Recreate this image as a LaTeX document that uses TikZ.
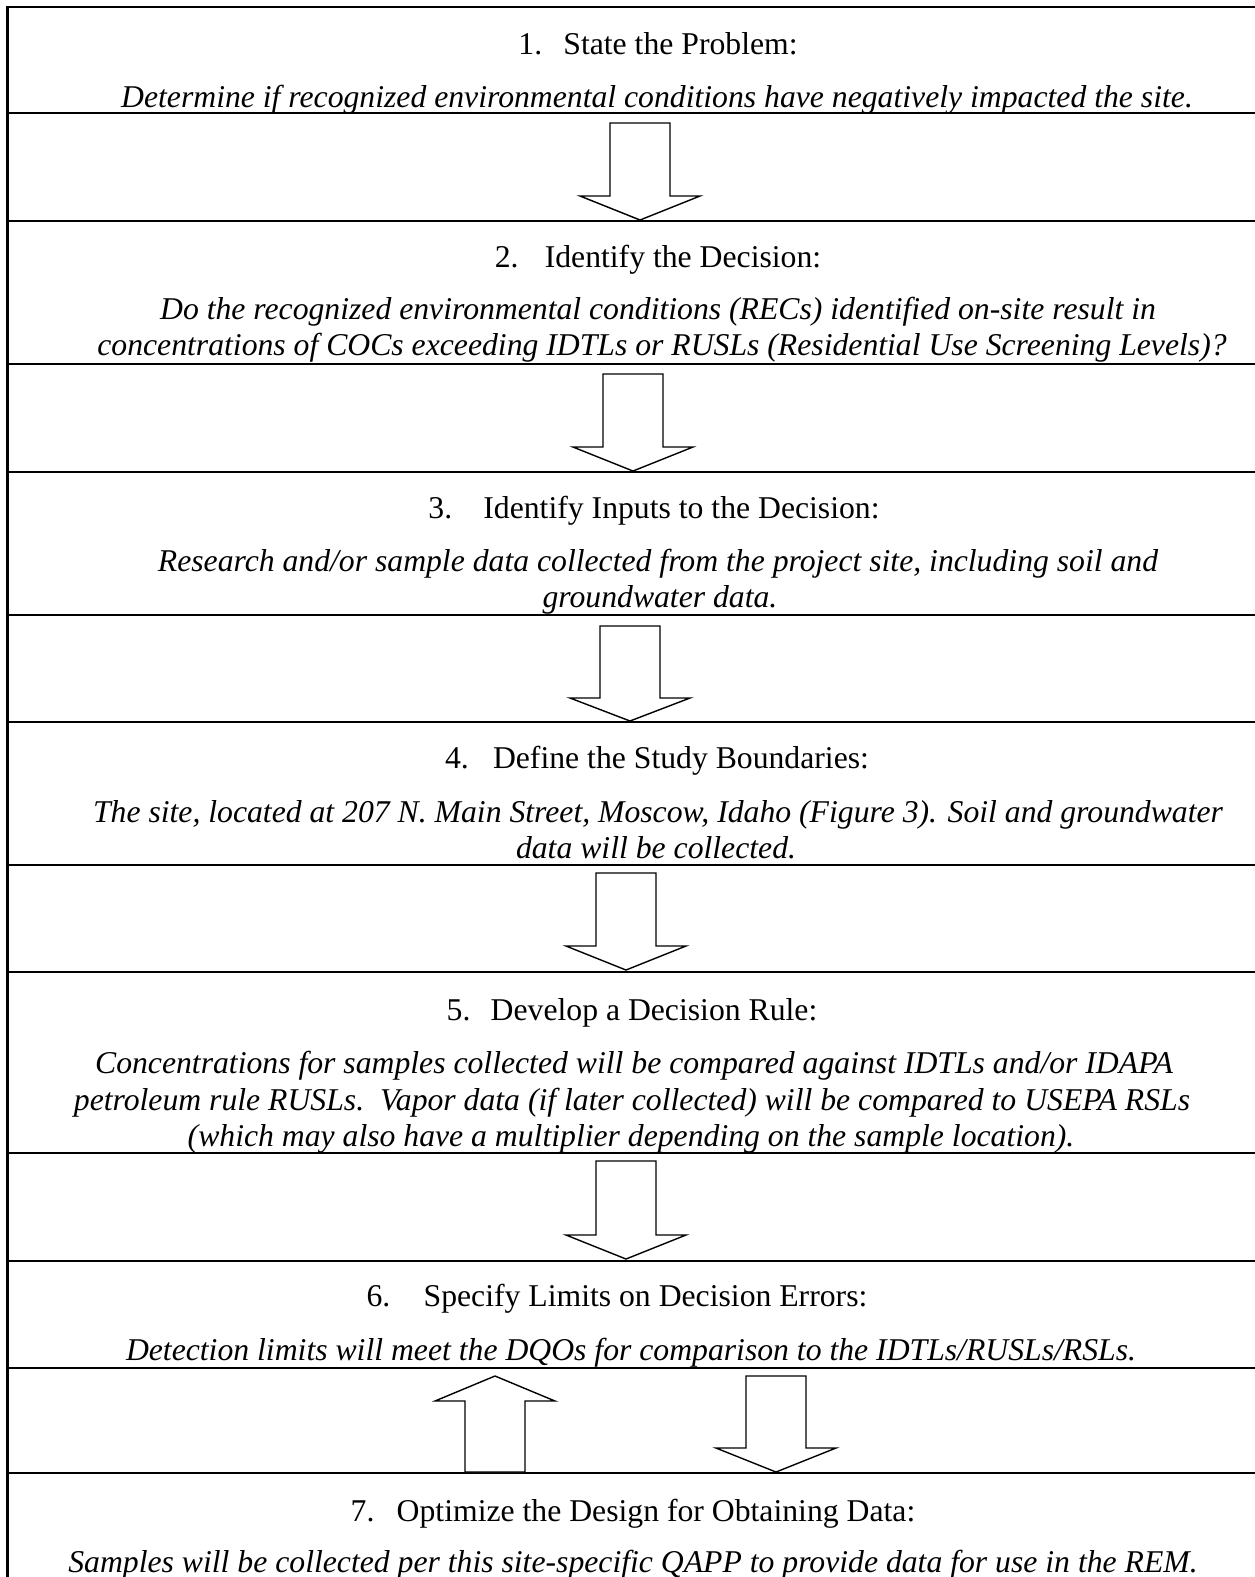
\documentclass[tikz,border=0pt]{standalone}
\usepackage{fontspec}
\setmainfont{Liberation Serif}
\newcommand\myDownArrow[4]{% cx, top, head base, tip
  \draw[blockarrow] (#1-30,#2) -- (#1+30,#2) -- (#1+30,#3) -- (#1+60,#3) -- (#1,#4) -- (#1-60,#3) -- (#1-30,#3) -- cycle;}
\newcommand\myUpArrow[4]{% cx, bottom, head base, tip
  \draw[blockarrow] (#1-30,#2) -- (#1+30,#2) -- (#1+30,#3) -- (#1+60,#3) -- (#1,#4) -- (#1-60,#3) -- (#1-30,#3) -- cycle;}
\begin{document}
\begin{tikzpicture}[x=1pt,y=-1pt,
  rule/.style={line width=2.5pt},
  blockarrow/.style={line width=1.4pt, fill=white, line join=miter},
  title/.style={anchor=base, inner sep=0pt, font=\fontsize{31.7}{36}\selectfont},
  body/.style={anchor=base, inner sep=0pt, font=\fontsize{31.7}{36}\selectfont\itshape}]
\useasboundingbox (0,0) rectangle (1254,1577);
\fill[white] (0,0) rectangle (1254,1577);
% frame and row rules
\draw[rule] (7.5,1580) -- (7.5,7) -- (1256,7);
\foreach \yy in {113,221,364,472,615,722,865,972,1153,1261,1368,1473}
  \draw[rule] (7.5,\yy) -- (1256,\yy);
% box 1
\node[title] (t1) at (658,54) {\makebox[45pt][l]{1.}State the Problem:};
\node[body] (b1) at (657,107) {Determine if recognized environmental conditions have negatively impacted the site.};
% box 2
\node[title] (t2) at (658,267) {\makebox[50pt][l]{2.}Identify the Decision:};
\node[body] (b2a) at (658,319) {Do the recognized environmental conditions (RECs) identified on-site result in};
\node[body] (b2b) at (662,355) {concentrations of COCs exceeding IDTLs or RUSLs (Residential Use Screening Levels)?};
% box 3
\node[title] (t3) at (654,518.3) {\makebox[55pt][l]{3.}Identify Inputs to the Decision:};
\node[body] (b3a) at (658,571) {Research and/or sample data collected from the project site, including soil and};
\node[body] (b3b) at (660,607.5) {groundwater data.};
% box 4
\node[title] (t4) at (657,768) {\makebox[48pt][l]{4.}Define the Study Boundaries:};
\node[body] (b4a) at (658,822.5) {The site, located at 207 N. Main Street, Moscow, Idaho (Figure 3). Soil and groundwater};
\node[body] (b4b) at (656,858.5) {data will be collected.};
% box 5
\node[title] (t5) at (632,1020) {\makebox[44pt][l]{5.}Develop a Decision Rule:};
\node[body] (b5a) at (634,1073) {Concentrations for samples collected will be compared against IDTLs and/or IDAPA};
\node[body] (b5b) at (632,1110) {petroleum rule RUSLs.\ \ Vapor data (if later collected) will be compared to USEPA RSLs};
\node[body] (b5c) at (631,1146.7) {(which may also have a multiplier depending on the sample location).};
% box 6
\node[title] (t6) at (617,1306.7) {\makebox[57pt][l]{6.}Specify Limits on Decision Errors:};
\node[body] (b6) at (631,1360) {Detection limits will meet the DQOs for comparison to the IDTLs/RUSLs/RSLs.};
% box 7
\node[title] (t7) at (633,1521.7) {\makebox[46pt][l]{7.}Optimize the Design for Obtaining Data:};
\node[body] (b7) at (633,1572.5) {Samples will be collected per this site-specific QAPP to provide data for use in the REM.};
% block arrows
\myDownArrow{640}{123}{196}{220}
\myDownArrow{633}{374}{447}{471}
\myDownArrow{630}{626}{698}{721}
\myDownArrow{626}{873}{946}{970}
\myDownArrow{626}{1161}{1235}{1259}
\myUpArrow{495}{1472}{1401}{1376}
\myDownArrow{776}{1376}{1448}{1472}
\end{tikzpicture}
\end{document}
